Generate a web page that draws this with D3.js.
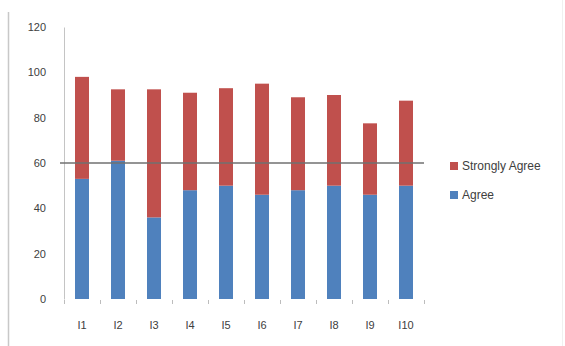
<!DOCTYPE html>
<html>
<head>
<meta charset="utf-8">
<script src="https://cdn.jsdelivr.net/npm/d3@7/dist/d3.min.js"></script>
<style>
  html, body { margin: 0; padding: 0; background: #fff; }
  svg { display: block; }
  text { font-family: "Liberation Sans", Arial, sans-serif; }
</style>
</head>
<body>
<svg id="chart" width="565" height="346"></svg>
<script>
// Survey items and response counts
const categories = ["I1", "I2", "I3", "I4", "I5", "I6", "I7", "I8", "I9", "I10"];
const agree = [53, 61, 36, 48, 50, 46, 48, 50, 46, 50];
const stronglyAgree = [45, 31.5, 56.5, 43, 43, 49, 41, 40, 31.5, 37.5];
const seriesNames = ["Agree", "Strongly Agree"];
const seriesColors = ["#4F81BD", "#C0504D"];
const yTicks = [0, 20, 40, 60, 80, 100, 120];
const referenceValue = 60;

const svg = d3.select("#chart");
const plot = { left: 64, right: 424, top: 27, bottom: 299 };

// outer chart frame (left edge)
svg.append("line")
  .attr("x1", 8.5).attr("x2", 8.5).attr("y1", 12).attr("y2", 346)
  .attr("stroke", "#c8c8c8").attr("stroke-width", 1.5);
svg.append("line")
  .attr("x1", 562.5).attr("x2", 562.5).attr("y1", 0).attr("y2", 346)
  .attr("stroke", "#f0f0f0").attr("stroke-width", 1);

const x = d3.scaleBand().domain(categories).range([plot.left, plot.right]).paddingInner(0).paddingOuter(0);
const y = d3.scaleLinear().domain([0, 120]).range([plot.bottom, plot.top]);

const table = categories.map((c, i) => ({ cat: c, Agree: agree[i], "Strongly Agree": stronglyAgree[i] }));
const stacked = d3.stack().keys(seriesNames)(table);

const barW = 14;
svg.append("g").selectAll("g")
  .data(stacked)
  .join("g")
  .attr("fill", (d, i) => seriesColors[i])
  .selectAll("rect")
  .data(d => d)
  .join("rect")
  .attr("x", d => x(d.data.cat) + x.bandwidth() / 2 - barW / 2)
  .attr("width", barW)
  .attr("y", d => y(d[1]))
  .attr("height", d => y(d[0]) - y(d[1]));

// y axis
const yAxis = d3.axisLeft(y).tickValues(yTicks).tickSize(0).tickPadding(18);
const gy = svg.append("g").attr("transform", `translate(${plot.left},0)`).call(yAxis);
gy.select(".domain").attr("stroke", "#c4c4c4");
gy.selectAll("text").attr("font-size", 11).attr("fill", "#404040");

// x axis with ticks between categories
const gx = svg.append("g").attr("transform", `translate(0,${plot.bottom + 1})`);
gx.selectAll("line.tick")
  .data(d3.range(categories.length + 1))
  .join("line")
  .attr("class", "tick")
  .attr("x1", i => plot.left + i * x.step() + 0.5)
  .attr("x2", i => plot.left + i * x.step() + 0.5)
  .attr("y1", 0).attr("y2", 4)
  .attr("stroke", "#bdbdbd");
gx.selectAll("text")
  .data(categories)
  .join("text")
  .attr("x", d => x(d) + x.bandwidth() / 2)
  .attr("y", 29)
  .attr("text-anchor", "middle")
  .attr("font-size", 11)
  .attr("fill", "#404040")
  .text(d => d);

// reference line
svg.append("line")
  .attr("x1", 60).attr("x2", 424)
  .attr("y1", y(referenceValue)).attr("y2", y(referenceValue))
  .attr("stroke", "#707070").attr("stroke-width", 1.5);

// legend
const legendItems = [
  { name: "Strongly Agree", color: seriesColors[1] },
  { name: "Agree", color: seriesColors[0] }
];
const lg = svg.append("g").attr("transform", "translate(450,162)");
legendItems.forEach((d, i) => {
  const g = lg.append("g").attr("transform", `translate(0,${i * 29})`);
  g.append("rect").attr("width", 8).attr("height", 8).attr("fill", d.color);
  g.append("text").attr("x", 12).attr("y", 8).attr("font-size", 12).attr("fill", "#404040").text(d.name);
});
</script>
</body>
</html>
